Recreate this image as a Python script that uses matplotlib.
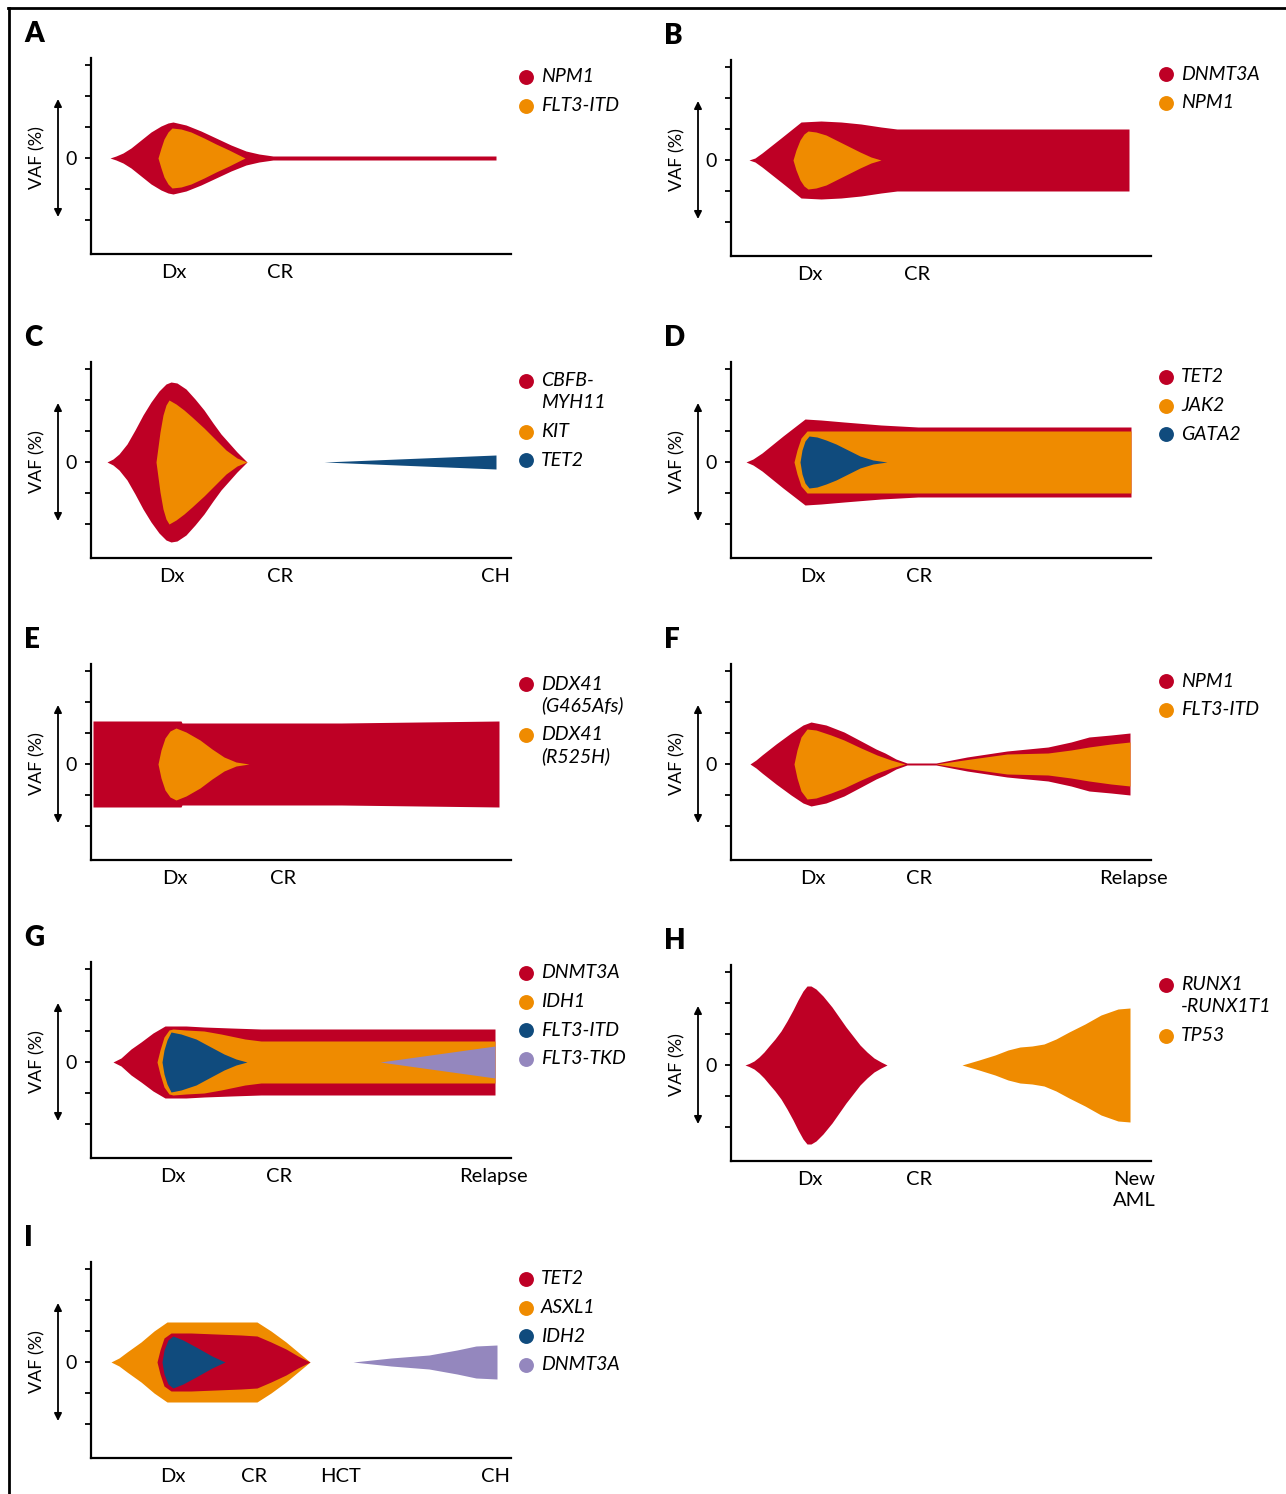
import matplotlib.pyplot as plt
from matplotlib.lines import Line2D

plt.rcParams['font.family'] = ['Lato', 'DejaVu Sans']

RED = '#BE0025'
ORANGE = '#EF8B00'
BLUE = '#104B7D'
PURPLE = '#9487BE'

# ---- clone outlines: time position (x) and half width of the fish (h) ----
# A
a_npm1_x = [19, 25, 32, 40, 50, 60, 70, 77, 82, 95, 110, 125, 140, 155, 168, 182, 405]
a_npm1_h = [0, 2, 5, 10, 18, 26, 32, 35, 36, 33, 27, 20, 13, 7, 4, 2, 2]
a_flt3_x = [67, 70, 73, 77, 81, 90, 100, 113, 125, 138, 148, 154]
a_flt3_h = [0, 10, 19, 26, 30, 29, 26, 20, 14, 8, 3, 0]
# B
b_dnmt3a_x = [18, 24, 31, 50, 70, 90, 110, 130, 150, 166, 398]
b_dnmt3a_h = [0, 2, 7, 22, 38, 39, 38, 36, 33, 31, 31]
b_npm1_x = [62, 65, 69, 73, 77, 85, 95, 105, 117, 129, 140, 150]
b_npm1_h = [0, 10, 20, 26, 29, 28, 25, 20, 14, 8, 3, 0]
# C
c_cbfb_x = [16, 22, 28, 36, 44, 52, 60, 68, 75, 80, 86, 95, 104, 113, 122, 130, 138, 146, 152, 156]
c_cbfb_h = [0, 3, 8, 18, 32, 47, 60, 71, 78, 80, 79, 73, 63, 52, 39, 28, 19, 10, 4, 0]
c_kit_x = [65, 67, 69, 72, 75, 78, 85, 93, 101, 113, 125, 135, 146, 156]
c_kit_h = [0, 15, 30, 47, 57, 62, 58, 52, 45, 34, 22, 12, 4, 0]
c_tet2_x = [233, 405]
c_tet2_h = [0, 7]
# D
d_tet2_x = [15, 22, 31, 52, 74, 90, 113, 150, 187, 400]
d_tet2_h = [0, 3, 9, 26, 43, 42, 40, 37, 35, 35]
d_jak2_x = [63, 66, 70, 76, 400]
d_jak2_h = [0, 12, 24, 31, 31]
d_gata2_x = [69, 71, 74, 78, 86, 95, 105, 117, 129, 142, 156]
d_gata2_h = [0, 12, 21, 26, 25, 22, 18, 12, 6, 2, 0]
# E
e_g465_x = [2, 90, 91, 250, 408]
e_g465_h = [43, 43, 41, 41, 43]
e_r525_x = [67, 70, 74, 79, 85, 95, 109, 121, 133, 145, 158]
e_r525_h = [0, 14, 26, 33, 36, 32, 24, 15, 7, 2, 0]
# F
f_npm1_x = [19, 25, 31, 45, 60, 72, 80, 95, 113, 130, 145, 154, 165, 176, 205, 236, 276, 317, 340, 358, 380, 399]
f_npm1_h = [0, 4, 9, 20, 31, 39, 42, 39, 32, 23, 15, 11, 5, 1, 1, 7, 13, 17, 22, 27, 29, 31]
f_flt3_x = [63, 66, 70, 76, 85, 100, 113, 130, 146, 160, 174, 205, 240, 276, 317, 340, 358, 380, 399]
f_flt3_h = [0, 14, 27, 35, 34, 29, 24, 16, 9, 4, 0, 0, 5, 10, 11, 14, 17, 20, 22]
# G
g_dnmt3a_x = [22, 30, 40, 50, 62, 74, 95, 113, 140, 170, 404]
g_dnmt3a_h = [0, 4, 13, 20, 29, 36, 36, 35, 34, 33, 33]
g_idh1_x = [66, 69, 73, 78, 82, 95, 113, 130, 154, 170, 404]
g_idh1_h = [0, 12, 25, 32, 33, 32, 31, 28, 23, 21, 21]
g_itd_x = [71, 73, 76, 80, 90, 105, 118, 133, 145, 156]
g_itd_h = [0, 12, 22, 30, 28, 23, 16, 8, 3, 0]
g_tkd_x = [289, 404]
g_tkd_h = [0, 16]
# H
h_runx1_x = [14, 18, 23, 28, 33, 38, 44, 50, 56, 62, 67, 72, 76, 80, 85, 92, 101, 108, 115, 122, 129, 136, 143, 150, 156]
h_runx1_h = [0, 1.5, 4, 8, 13, 19, 26, 34, 44, 55, 65, 74, 79, 79, 76, 69, 58, 48, 38, 29, 20, 13, 7, 3, 0]
h_tp53_x = [231, 248, 264, 277, 289, 301, 313, 325, 338, 354, 370, 387, 399]
h_tp53_h = [0, 5, 10, 15, 18, 19, 21, 26, 33, 41, 50, 56, 57]
# I
i_asxl1_x = [20, 28, 36, 50, 63, 76, 166, 180, 195, 207, 219]
i_asxl1_h = [0, 4, 10, 20, 31, 40, 40, 31, 20, 10, 0]
i_tet2_x = [66, 69, 73, 80, 100, 125, 150, 166, 180, 195, 207, 219]
i_tet2_h = [0, 12, 24, 29, 29, 28, 27, 26, 20, 13, 6, 0]
i_idh2_x = [71, 73, 77, 82, 92, 105, 121, 134]
i_idh2_h = [0, 12, 22, 26, 22, 15, 6, 0]
i_dnmt3a_x = [262, 300, 338, 366, 385, 406]
i_dnmt3a_h = [0, 4, 7, 12, 16, 17]

# time points on the x axis
a_ticks, a_labels = [83, 189], ['Dx', 'CR']
b_ticks, b_labels = [79, 186], ['Dx', 'CR']
c_ticks, c_labels = [81, 189, 405], ['Dx', 'CR', 'CH']
d_ticks, d_labels = [82, 188], ['Dx', 'CR']
e_ticks, e_labels = [84, 192], ['Dx', 'CR']
f_ticks, f_labels = [82, 188, 402], ['Dx', 'CR', 'Relapse']
g_ticks, g_labels = [82, 188, 402], ['Dx', 'CR', 'Relapse']
h_ticks, h_labels = [79, 188, 403], ['Dx', 'CR', 'New\nAML']
i_ticks, i_labels = [82, 163, 249, 404], ['Dx', 'CR', 'HCT', 'CH']

panels = [
    dict(letter='A', col=0, zero=158, ticks=a_ticks, labels=a_labels, leg_y=81,
         clones=[(RED, a_npm1_x, a_npm1_h), (ORANGE, a_flt3_x, a_flt3_h)],
         legend=[(RED, 'NPM1'), (ORANGE, 'FLT3-ITD')]),
    dict(letter='B', col=1, zero=160, ticks=b_ticks, labels=b_labels, leg_y=86,
         clones=[(RED, b_dnmt3a_x, b_dnmt3a_h), (ORANGE, b_npm1_x, b_npm1_h)],
         legend=[(RED, 'DNMT3A'), (ORANGE, 'NPM1')]),
    dict(letter='C', col=0, zero=462, ticks=c_ticks, labels=c_labels, leg_y=81,
         clones=[(RED, c_cbfb_x, c_cbfb_h), (ORANGE, c_kit_x, c_kit_h), (BLUE, c_tet2_x, c_tet2_h)],
         legend=[(RED, 'CBFB-\nMYH11'), (ORANGE, 'KIT'), (BLUE, 'TET2')]),
    dict(letter='D', col=1, zero=462, ticks=d_ticks, labels=d_labels, leg_y=85,
         clones=[(RED, d_tet2_x, d_tet2_h), (ORANGE, d_jak2_x, d_jak2_h), (BLUE, d_gata2_x, d_gata2_h)],
         legend=[(RED, 'TET2'), (ORANGE, 'JAK2'), (BLUE, 'GATA2')]),
    dict(letter='E', col=0, zero=764, ticks=e_ticks, labels=e_labels, leg_y=80,
         clones=[(RED, e_g465_x, e_g465_h), (ORANGE, e_r525_x, e_r525_h)],
         legend=[(RED, 'DDX41\n(G465Afs)'), (ORANGE, 'DDX41\n(R525H)')]),
    dict(letter='F', col=1, zero=764, ticks=f_ticks, labels=f_labels, leg_y=83,
         clones=[(RED, f_npm1_x, f_npm1_h), (ORANGE, f_flt3_x, f_flt3_h)],
         legend=[(RED, 'NPM1'), (ORANGE, 'FLT3-ITD')]),
    dict(letter='G', col=0, zero=1062, ticks=g_ticks, labels=g_labels, leg_y=89,
         clones=[(RED, g_dnmt3a_x, g_dnmt3a_h), (ORANGE, g_idh1_x, g_idh1_h),
                 (BLUE, g_itd_x, g_itd_h), (PURPLE, g_tkd_x, g_tkd_h)],
         legend=[(RED, 'DNMT3A'), (ORANGE, 'IDH1'), (BLUE, 'FLT3-ITD'), (PURPLE, 'FLT3-TKD')]),
    dict(letter='H', col=1, zero=1065, ticks=h_ticks, labels=h_labels, leg_y=80,
         clones=[(RED, h_runx1_x, h_runx1_h), (ORANGE, h_tp53_x, h_tp53_h)],
         legend=[(RED, 'RUNX1\n-RUNX1T1'), (ORANGE, 'TP53')]),
    dict(letter='I', col=0, zero=1362, ticks=i_ticks, labels=i_labels, leg_y=83,
         clones=[(ORANGE, i_asxl1_x, i_asxl1_h), (RED, i_tet2_x, i_tet2_h),
                 (BLUE, i_idh2_x, i_idh2_h), (PURPLE, i_dnmt3a_x, i_dnmt3a_h)],
         legend=[(RED, 'TET2'), (ORANGE, 'ASXL1'), (BLUE, 'IDH2'), (PURPLE, 'DNMT3A')]),
]

W, H = 1286, 1494
fig = plt.figure(figsize=(W / 100, H / 100), dpi=100)

# frame of the figure (only top and left edge visible)
fig.add_artist(Line2D([8 / W, 1], [1 - 8 / H, 1 - 8 / H], transform=fig.transFigure, color='black', lw=2))
fig.add_artist(Line2D([9 / W, 9 / W], [0, 1 - 8 / H], transform=fig.transFigure, color='black', lw=2))

for p in panels:
    left = 91 if p['col'] == 0 else 731
    ax = fig.add_axes([left / W, 1 - (p['zero'] + 96) / H, 420 / W, 196 / H])
    ax.set_xlim(0, 420)
    ax.set_ylim(-96, 100)

    for color, x, h in p['clones']:
        ax.fill_between(x, [-v for v in h], h, color=color, lw=0)

    for s in ['top', 'right']:
        ax.spines[s].set_visible(False)
    for s in ['left', 'bottom']:
        ax.spines[s].set_linewidth(1.6)

    ax.set_yticks([-62, -31, 0, 31, 62, 93])
    ax.set_yticklabels(['', '', '0', '', '', ''])
    ax.tick_params(axis='y', length=4, width=1.3, pad=6, labelsize=14)
    ax.set_xticks(p['ticks'])
    ax.set_xticklabels(p['labels'], va='top', linespacing=1.25)
    ax.tick_params(axis='x', length=0, pad=7.5, labelsize=14.5)

    # y label with double arrow
    ax.annotate('', xy=(-33, 59), xytext=(-33, -59), xycoords='data',
                arrowprops=dict(arrowstyle='<|-|>', color='black', lw=1.3,
                                shrinkA=0, shrinkB=0, mutation_scale=11),
                annotation_clip=False)
    ax.text(-54, 0, 'VAF (%)', rotation=90, ha='center', va='center', fontsize=13)

    ax.text(-67, 124, p['letter'], fontsize=20, fontweight='heavy', ha='left', va='center')

    # legend
    y = p['leg_y']
    for color, label in p['legend']:
        ax.scatter([435], [y], s=115, color=color, clip_on=False, zorder=5, lw=0)
        lines = label.split('\n')
        for k, line in enumerate(lines):
            ax.text(450, y - 21.5 * k, line, fontsize=14, style='italic', ha='left', va='center')
        y -= 28.5 + 22 * (len(lines) - 1)

fig.savefig('out.png', dpi=100)
